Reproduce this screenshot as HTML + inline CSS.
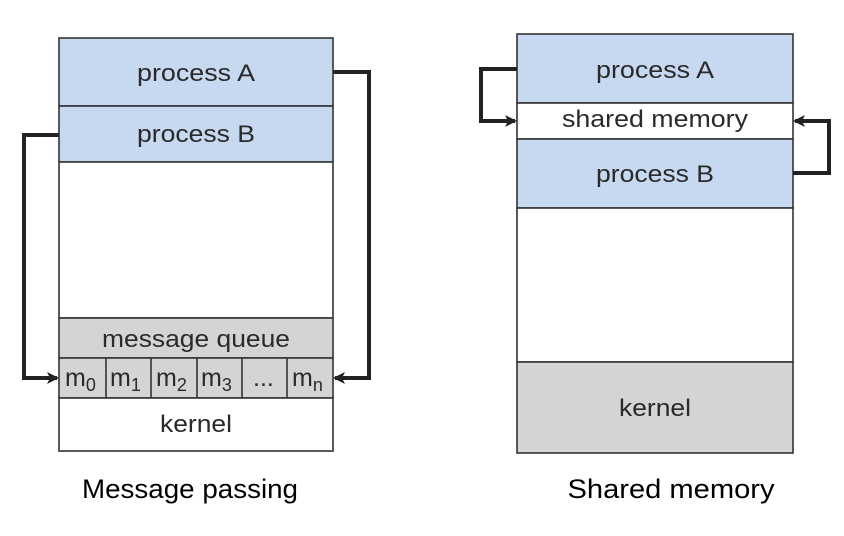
<!DOCTYPE html>
<html><head><meta charset="utf-8"><style>
html,body{margin:0;padding:0;background:#fff;}
svg{display:block;}
text{font-family:"Liberation Sans",Arial,sans-serif;fill:#2a2a2a;}
.cap{font-family:"Liberation Sans",sans-serif;fill:#000;}
</style></head><body>
<svg width="844" height="536" viewBox="0 0 844 536" xmlns="http://www.w3.org/2000/svg">
<defs><marker id="ah" markerWidth="12" markerHeight="12" refX="10" refY="6" orient="auto" markerUnits="userSpaceOnUse"><path d="M0,0 L12,6 L0,12 L3,6 Z" fill="#222"/></marker></defs>
<g stroke="#333" stroke-width="1.6">
<rect x="59" y="38" width="274" height="68" fill="#c6d9f0"/>
<rect x="59" y="106" width="274" height="56" fill="#c6d9f0"/>
<rect x="59" y="162" width="274" height="156" fill="#fff"/>
<rect x="59" y="318" width="274" height="40" fill="#d3d4d6"/>
<rect x="59" y="358" width="274" height="40" fill="#d3d4d6"/>
<rect x="59" y="398" width="274" height="53" fill="#fff"/>
<line x1="106" y1="358" x2="106" y2="398"/>
<line x1="151" y1="358" x2="151" y2="398"/>
<line x1="197" y1="358" x2="197" y2="398"/>
<line x1="242" y1="358" x2="242" y2="398"/>
<line x1="287" y1="358" x2="287" y2="398"/>
<rect x="517" y="34" width="276" height="69" fill="#c6d9f0"/>
<rect x="517" y="103" width="276" height="36" fill="#fff"/>
<rect x="517" y="139" width="276" height="69" fill="#c6d9f0"/>
<rect x="517" y="208" width="276" height="154" fill="#fff"/>
<rect x="517" y="362" width="276" height="91" fill="#d3d4d6"/>
</g>
<g fill="none" stroke="#222" stroke-width="4">
<polyline points="59,135 24,135 24,378 57,378" marker-end="url(#ah)"/>
<polyline points="333,72 369,72 369,378 335,378" marker-end="url(#ah)"/>
<polyline points="517,69 481,69 481,121 515,121" marker-end="url(#ah)"/>
<polyline points="793,173 829,173 829,121 795,121" marker-end="url(#ah)"/>
</g>
<g font-size="24" text-anchor="middle">
<text x="196" y="81" textLength="118" lengthAdjust="spacingAndGlyphs">process A</text>
<text x="196" y="142" textLength="118" lengthAdjust="spacingAndGlyphs">process B</text>
<text x="196" y="347" textLength="188" lengthAdjust="spacingAndGlyphs">message queue</text>
<text x="196" y="432" textLength="72" lengthAdjust="spacingAndGlyphs">kernel</text>
<text x="655" y="78" textLength="118" lengthAdjust="spacingAndGlyphs">process A</text>
<text x="655" y="127" textLength="186" lengthAdjust="spacingAndGlyphs">shared memory</text>
<text x="655" y="182" textLength="118" lengthAdjust="spacingAndGlyphs">process B</text>
<text x="655" y="416" textLength="72" lengthAdjust="spacingAndGlyphs">kernel</text>
</g>
<g font-size="25">
<text x="65" y="386">m<tspan font-size="18" dy="5">0</tspan></text>
<text x="110" y="386">m<tspan font-size="18" dy="5">1</tspan></text>
<text x="156" y="386">m<tspan font-size="18" dy="5">2</tspan></text>
<text x="201" y="386">m<tspan font-size="18" dy="5">3</tspan></text>
<text x="253" y="386">...</text>
<text x="292" y="386">m<tspan font-size="18" dy="5">n</tspan></text>
</g>
<text class="cap" x="190" y="498" font-size="27" text-anchor="middle" textLength="216" lengthAdjust="spacingAndGlyphs">Message passing</text>
<text class="cap" x="671" y="498" font-size="27" text-anchor="middle" textLength="207" lengthAdjust="spacingAndGlyphs">Shared memory</text>
</svg>
</body></html>
